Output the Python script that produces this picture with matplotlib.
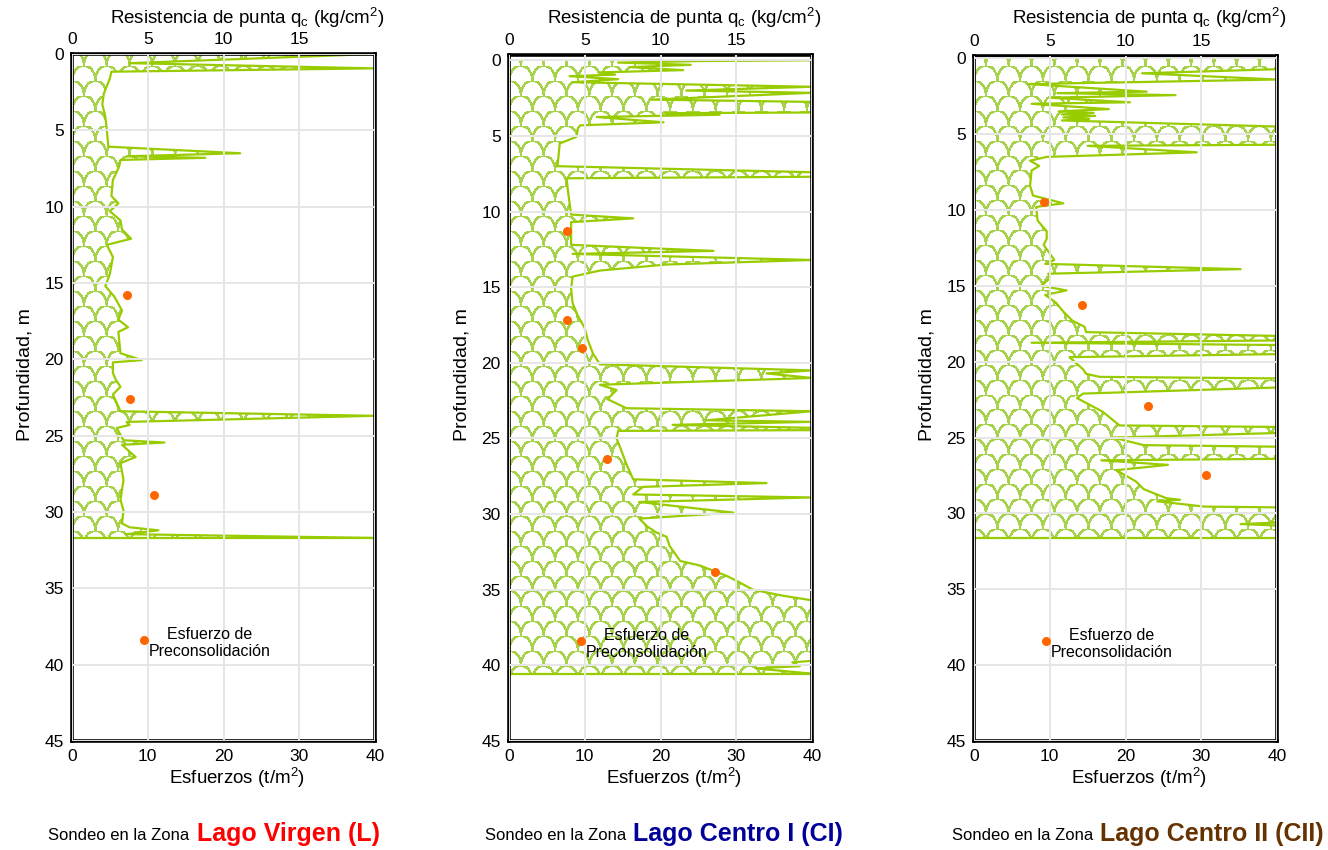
import numpy as np
import matplotlib.pyplot as plt

plt.rcParams['font.family'] = ['Liberation Sans', 'DejaVu Sans']
plt.rcParams['mathtext.default'] = 'regular'

# --- datos: resistencia de punta qc (kg/cm2) vs profundidad (m) ---

# Lago Virgen (L)
prof_L = [0.0, 0.28, 0.6, 0.94, 1.16, 1.6, 2.6, 3.3, 4.1, 5.0, 6.07, 6.5, 6.7, 6.8, 6.94,
          7.4, 8.25, 9.3, 9.78, 10.3, 10.9, 11.5, 12.1, 12.5, 13.3, 14.4, 15.2, 15.9,
          16.8, 17.4, 17.9, 18.2, 19.6, 20.05, 20.2, 20.9, 21.35, 21.8, 22.3, 23.4, 23.7,
          24.1, 24.3, 24.5, 25.3, 25.45, 25.6, 26.4, 26.8, 27.9, 29.2, 29.9, 30.75, 31.0,
          31.2, 31.45, 31.7]
qc_L = [19.9, 12.4, 3.8, 19.9, 2.6, 2.5, 2.1, 2.0, 2.2, 2.3, 2.4, 11.1, 3.6, 8.8, 3.2,
        3.1, 2.7, 2.6, 3.06, 2.5, 3.2, 3.3, 3.9, 2.3, 2.7, 2.5, 2.2, 2.8,
        3.3, 3.06, 3.7, 3.06, 3.2, 4.6, 2.7, 2.7, 2.9, 3.2, 2.7, 3.2, 19.9,
        3.6, 3.8, 2.95, 3.4, 6.1, 3.3, 4.2, 3.2, 3.4, 3.2, 3.4, 3.3, 3.8,
        5.7, 3.6, 19.9]
esf_L = [7.3, 7.7, 10.8]
prof_esf_L = [15.8, 22.6, 28.9]

# Lago Centro I (CI)
prof_CI = [0.0, 0.05, 0.15, 0.3, 0.45, 0.65, 0.8, 0.95, 1.05, 1.25, 1.45, 1.75, 2.0, 2.15,
           2.6, 2.75, 3.45, 3.5, 3.6, 3.75, 4.1, 4.3, 4.5, 5.06, 5.5, 7.0, 7.4, 7.7, 7.8,
           8.7, 10.2, 10.45, 10.7, 12.2, 12.6, 12.8, 13.2, 13.5, 13.9, 14.3, 15.1, 16.06,
           16.9, 17.7, 18.5, 19.4, 20.1, 20.5, 20.7, 20.9, 21.0, 21.45, 21.8, 22.4, 23.0,
           23.2, 23.8, 23.9, 24.1, 24.3, 24.45, 24.5, 25.0, 25.5, 26.7, 27.7, 27.95, 28.2,
           28.7, 28.9, 29.2, 29.9, 30.3, 30.8, 31.2, 31.5, 32.1, 33.1, 33.4, 34.1, 34.4,
           35.0, 35.4, 35.7, 39.7, 39.8, 40.05, 40.2, 40.55]
qc_CI = [20, 12.6, 7.2, 12.0, 8.0, 11.5, 6.0, 7.0, 4.0, 7.2, 4.2, 20, 11.7, 20,
         9.4, 20, 20, 10.3, 13.9, 5.8, 10.2, 4.7, 4.55, 4.45, 3.35, 3.2, 20, 20, 3.8,
         3.9, 4.1, 8.2, 4.1, 4.1, 13.5, 4.2, 20, 10.4, 6.0, 4.2, 4.1, 4.2,
         4.55, 5.0, 5.2, 5.55, 6.0, 20, 17.0, 19.0, 20, 6.0, 7.1, 6.5, 7.75,
         20, 13.0, 20, 10.8, 20, 20, 7.2, 7.1, 7.3, 7.75, 8.2, 17.0, 8.85,
         8.2, 20, 8.6, 14.8, 8.6, 9.1, 9.7, 10.4, 10.6, 11.3, 12.6, 14.4, 15.0,
         16.1, 18.1, 20, 20, 18.7, 19.2, 16.3, 20]
esf_CI = [7.7, 7.6, 9.7, 13.0, 27.2]
prof_esf_CI = [11.3, 17.2, 19.0, 26.35, 33.8]

# Lago Centro II (CII)
prof_CII = [0.0, 0.72, 0.99, 1.4, 1.7, 2.2, 2.3, 2.43, 2.6, 2.9, 3.0, 3.35, 3.5, 3.6, 3.7,
            3.8, 3.9, 4.0, 4.1, 4.5, 5.7, 5.77, 6.2, 6.5, 6.75, 7.1, 7.4, 8.4, 9.05, 9.56,
            9.8, 10.7, 11.4, 11.9, 12.3, 13.3, 13.55, 13.9, 14.2, 14.5, 15.0, 15.3, 15.6,
            16.1, 16.7, 17.3, 17.7, 18.05, 18.3, 18.6, 18.75, 18.9, 19.5, 19.7, 20.5, 20.8,
            21.0, 21.1, 21.7, 22.1, 22.4, 23.3, 24.2, 24.3, 24.7, 25.0, 25.5, 25.6, 26.4,
            26.5, 26.8, 27.15, 27.9, 28.4, 29.0, 29.1, 29.2, 29.55, 29.6, 30.6, 30.7, 30.8,
            31.6]
qc_CII = [20, 20, 11.1, 20, 3.6, 11.4, 5.5, 13.3, 5.0, 10.3, 3.8, 8.9, 5.6, 7.9, 5.8,
          8.0, 5.9, 7.6, 5.8, 20, 20, 7.5, 14.7, 4.8, 3.7, 4.3, 3.8, 3.7, 3.9, 5.9,
          4.1, 4.2, 4.8, 4.8, 4.6, 5.3, 4.7, 17.6, 4.9, 5.0, 4.45, 6.1, 4.7,
          5.4, 5.9, 6.5, 7.3, 7.4, 20, 20, 3.8, 20, 20, 6.3, 7.2, 7.4,
          8.3, 20, 20, 7.2, 6.8, 8.5, 9.6, 20, 20, 9.2, 11.2, 20, 20,
          8.4, 12.8, 9.4, 10.7, 11.2, 12.7, 13.6, 12.1, 15.2, 20, 20, 17.6, 20,
          20]
esf_CII = [9.3, 14.2, 23.0, 30.6]
prof_esf_CII = [9.5, 16.25, 22.9, 27.5]

# punto de la leyenda
esf_leyenda = 9.5
prof_leyenda = 38.4

zonas = ['Lago Virgen (L)', 'Lago Centro I (CI)', 'Lago Centro II (CII)']
colores_zona = ['#ff0000', '#000099', '#663300']

perfiles = [(prof_L, qc_L), (prof_CI, qc_CI), (prof_CII, qc_CII)]
esfuerzos = [(esf_L, prof_esf_L), (esf_CI, prof_esf_CI), (esf_CII, prof_esf_CII)]

# --- estilo ---
W, H = 1328, 850
verde = '#99cc00'
verde_trama = '#a6d24c'
naranja = '#ff6600'
gris = '#e6e6e6'

# marcos de los ejes en pixeles: izq, der, arriba, abajo
marcos = [(72, 375, 54, 741), (509, 812, 55, 741), (974, 1277, 56, 741)]
ylims = [(45, 0), (45, -0.35), (44.8, -0.15)]


def px(x):
    return x / W


def py(y):
    return 1 - y / H


def trama_escamas(h, w, a=11.4, b=15.0, grosor=1.2):
    # patron de escamas (como la trama del original), arcos hacia arriba
    yy, xx = np.mgrid[0:h, 0:w].astype(float)
    fila = np.floor(yy / b)
    ly = yy - fila * b
    lx = np.mod(xx + (fila % 2) * a, 2 * a) - a
    r = np.sqrt((lx / a) ** 2 + (ly / b) ** 2)
    mask = np.abs(r - 1) * min(a, b) < grosor
    img = np.zeros((h, w, 4))
    rgb = np.array([int(verde_trama[i:i + 2], 16) / 255 for i in (1, 3, 5)])
    img[mask, :3] = rgb
    img[mask, 3] = 1.0
    return img[::-1]


fig = plt.figure(figsize=(W / 100, H / 100), dpi=100)

for i in range(3):
    l, r, t, b = marcos[i]
    ax = fig.add_axes([px(l), py(b), px(r - l), (b - t) / H])
    ax_q = ax.twiny()
    ax_q.set_zorder(ax.get_zorder() - 1)
    ax.set_zorder(ax_q.get_zorder() + 1)
    ax.patch.set_visible(False)
    ax_q.patch.set_facecolor('white')

    prof, qc = perfiles[i]

    # relleno con trama recortado al perfil
    relleno = ax_q.fill_betweenx(prof, 0, qc, facecolor='none', edgecolor='none')
    img = trama_escamas(b - t, r - l)
    im = ax_q.imshow(img, extent=(0, 20, ylims[i][0], ylims[i][1]), aspect='auto',
                     interpolation='nearest', zorder=1)
    im.set_clip_path(relleno.get_paths()[0], ax_q.transData)
    ax_q.plot(qc, prof, color=verde, lw=1.6, zorder=2)
    ax_q.hlines(prof[-1], 0, qc[-1], color=verde, lw=1.6, zorder=2)

    ax_q.set_xlim(0, 20)
    ax_q.set_xticks([0, 5, 10, 15])
    ax_q.tick_params(axis='x', length=0, labelsize=12.5, pad=5)
    for s in ax_q.spines.values():
        s.set_visible(False)

    # eje principal: esfuerzos
    ax.set_xlim(0, 40)
    ax.set_ylim(*ylims[i])
    ax.set_xticks([0, 10, 20, 30, 40])
    ax.set_yticks(range(0, 50, 5))
    ax.tick_params(length=0, labelsize=12.5, pad=6)
    ax.grid(True, color=gris, lw=1.4)
    ax.set_axisbelow(False)
    for s in ax.spines.values():
        s.set_linewidth(2.6)
        s.set_color('black')

    ex, ey = esfuerzos[i]
    ax.plot(ex, ey, 'o', color=naranja, ms=6.5, mec='none', zorder=5)
    ax.plot([esf_leyenda], [prof_leyenda], 'o', color=naranja, ms=6.5, mec='none', zorder=5)
    ax.text(18.2, 38.6, 'Esfuerzo de\nPreconsolidación', ha='center', va='center',
            fontsize=11.5, linespacing=1.15, zorder=6)

    cx = (l + r) / 2
    fig.text(px(cx + 24), py(18), 'Resistencia de punta q$_c$ (kg/cm$^2$)',
             ha='center', va='center', fontsize=13.5)
    fig.text(px(cx + 13), py(778), 'Esfuerzos (t/m$^2$)', ha='center', va='center',
             fontsize=13.5)
    fig.text(px(l - 47), py(375), 'Profundidad, m', rotation=90, ha='center',
             va='center', fontsize=14)

    # pie de cada sondeo
    x0 = [48, 485, 952][i]
    x1 = [197, 633, 1100][i]
    fig.text(px(x0), py(836), 'Sondeo en la Zona', fontsize=12,
             ha='left', va='center')
    fig.text(px(x1), py(834), zonas[i], color=colores_zona[i], fontweight='bold',
             fontsize=18, ha='left', va='center')

fig.savefig('out.png', dpi=100)
